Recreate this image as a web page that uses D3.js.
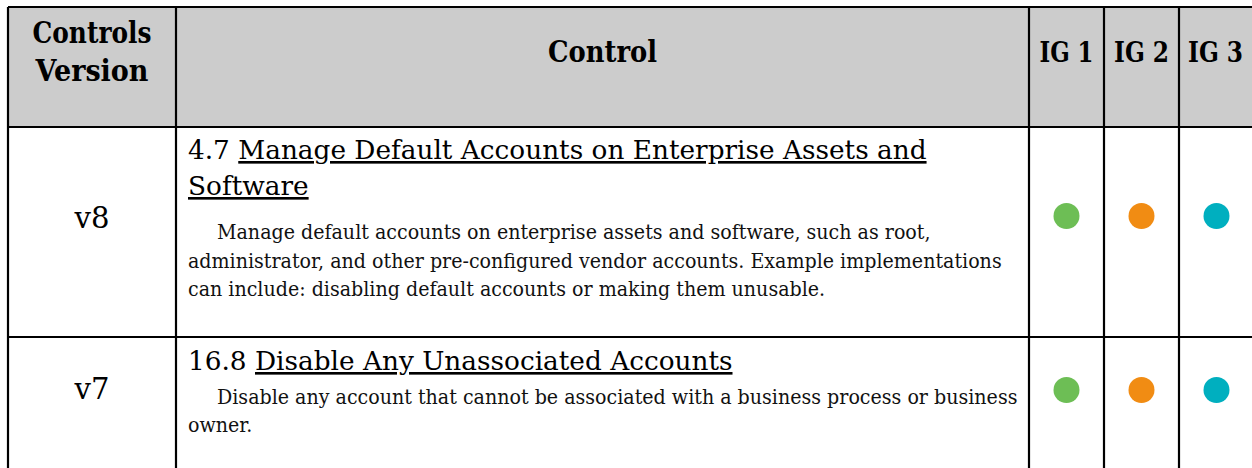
<!DOCTYPE html>
<html><head><meta charset="utf-8">
<script src="https://cdn.jsdelivr.net/npm/d3@7"></script>
<style>html,body{margin:0;padding:0;background:#fff;overflow:hidden}</style>
</head><body><svg id="c" width="1252" height="468"></svg>
<script>
// ---- data ----
const headers = [["Controls", "Version"], ["Control"], ["IG 1"], ["IG 2"], ["IG 3"]];
const versions = ["v8", "v7"];
const controlIds = ["4.7", "16.8"];
const titleLines = [
  ["Manage Default Accounts on Enterprise Assets and", "Software"],
  ["Disable Any Unassociated Accounts"]
];
const descLines = [
  ["Manage default accounts on enterprise assets and software, such as root,",
   "administrator, and other pre-configured vendor accounts. Example implementations",
   "can include: disabling default accounts or making them unusable."],
  ["Disable any account that cannot be associated with a business process or business",
   "owner."]
];
const igFlags = [[true, true, true], [true, true, true]];
const igColors = ["#6DBE55", "#F18C13", "#00AFBF"];

// ---- layout ----
const colEdges = [8, 176, 1029, 1104, 1179, 1254];
const rowEdges = [7, 127, 337, 520];
const FONT = "'DejaVu Serif', serif";
const svg = d3.select("#c");
const colCenter = i => (colEdges[i] + colEdges[i + 1]) / 2;

svg.append("rect").attr("x", colEdges[0]).attr("y", rowEdges[0])
  .attr("width", colEdges[5] - colEdges[0]).attr("height", rowEdges[1] - rowEdges[0])
  .attr("fill", "#CCCCCC");

function measure(text, size, bold) {
  const t = svg.append("text").attr("font-family", FONT).attr("font-size", size)
    .attr("font-weight", bold ? "bold" : "normal").text(text);
  const w = t.node().getComputedTextLength();
  t.remove();
  return w;
}
const titleSize = 26 * 739 / measure(controlIds[0] + " " + titleLines[0][0], 26, false);
const descSize = 18 * 814 / measure(descLines[0][1], 18, false);

// header texts
const headBase = [[43, 81], [62], [62], [62], [62]];
const headWidth = [[119, 113], [109], [54], [55], [55]];
const headSizes = [29, 29, 27, 27, 27];
headers.forEach((lines, i) => {
  lines.forEach((ln, j) => {
    svg.append("text").attr("x", colCenter(i) - (i === 4 ? 1 : 0)).attr("y", headBase[i][j])
      .attr("text-anchor", "middle").attr("font-family", FONT)
      .attr("font-weight", "bold").attr("font-size", headSizes[i]).attr("fill", "#000")
      .attr("textLength", headWidth[i][j]).attr("lengthAdjust", "spacingAndGlyphs").text(ln);
  });
});

const rowLayout = [
  {title: [159, 195], desc: [239, 268, 296], ver: 228, dot: 216},
  {title: [370], desc: [404, 432], ver: 399, dot: 390}
];
const tx = 188, indent = 217;
const descDraw = descSize * 1.08;
versions.forEach((v, r) => {
  const L = rowLayout[r];
  svg.append("text").attr("x", colCenter(0)).attr("y", L.ver).attr("text-anchor", "middle")
    .attr("font-family", FONT).attr("font-size", 30).attr("fill", "#000")
    .attr("textLength", 35).attr("lengthAdjust", "spacingAndGlyphs").text(v);
  titleLines[r].forEach((ln, j) => {
    const t = svg.append("text").attr("x", tx).attr("y", L.title[j])
      .attr("font-family", FONT).attr("font-size", titleSize).attr("fill", "#000");
    if (j === 0) t.append("tspan").text(controlIds[r] + " ");
    t.append("tspan").style("text-decoration", "underline").text(ln);
  });
  descLines[r].forEach((ln, j) => {
    const w = measure(ln, descSize, false);
    svg.append("text").attr("x", j === 0 ? indent : tx).attr("y", L.desc[j])
      .attr("font-family", FONT).attr("font-size", descDraw).attr("fill", "#111")
      .attr("textLength", w).attr("lengthAdjust", "spacingAndGlyphs").text(ln);
  });
  igFlags[r].forEach((f, k) => {
    if (f) svg.append("circle").attr("cx", colCenter(k + 2)).attr("cy", L.dot)
      .attr("r", 13).attr("fill", igColors[k]);
  });
});

const g = svg.append("g").attr("stroke", "#000").attr("stroke-width", 2.2);
colEdges.forEach(x => g.append("line").attr("x1", x).attr("x2", x)
  .attr("y1", rowEdges[0]).attr("y2", rowEdges[3]));
rowEdges.forEach(y => g.append("line").attr("x1", colEdges[0]).attr("x2", colEdges[5])
  .attr("y1", y).attr("y2", y));
</script></body></html>
